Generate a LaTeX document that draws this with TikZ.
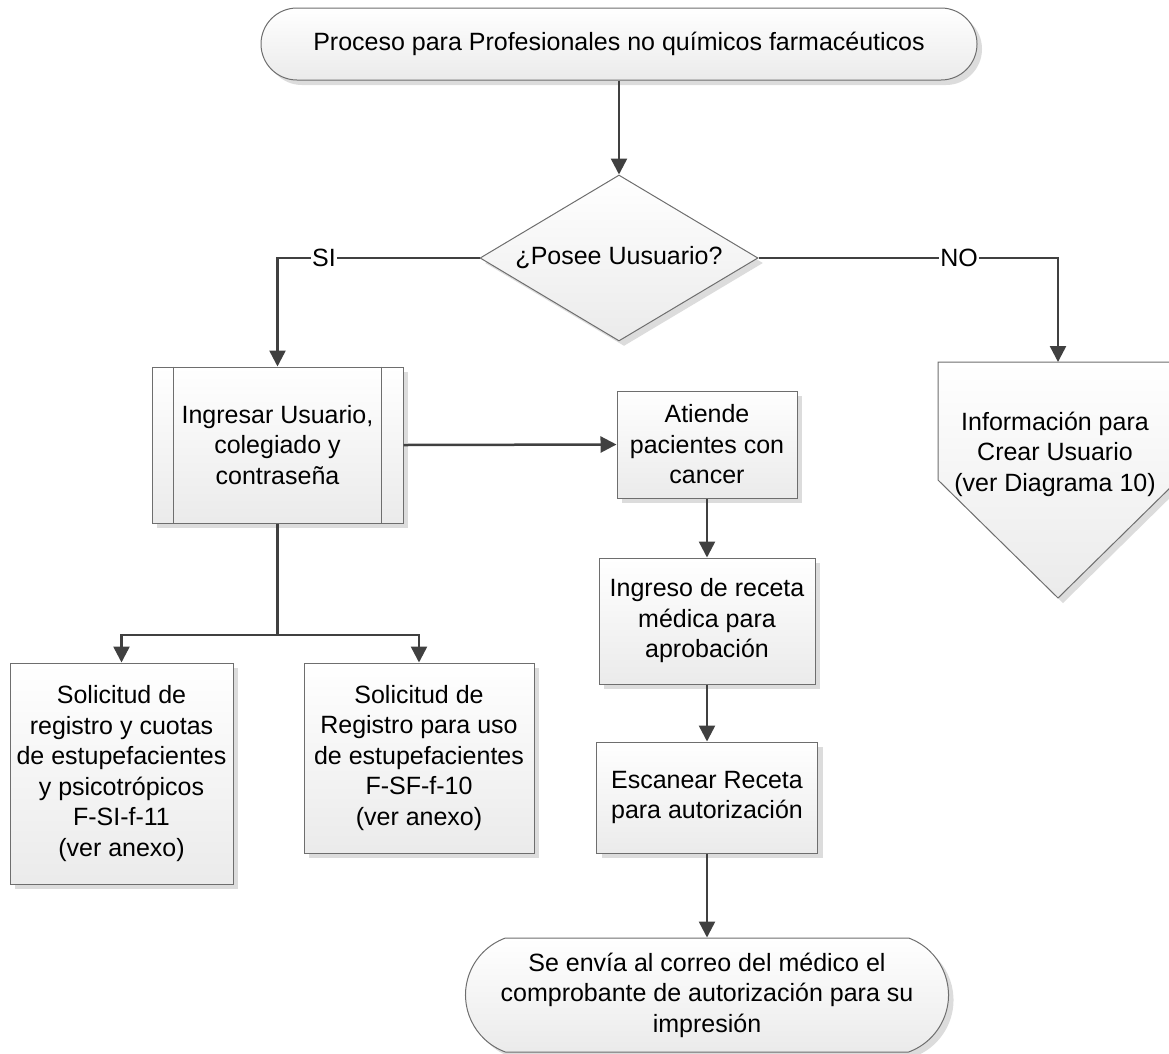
\documentclass[tikz,border=0pt]{standalone}
\usepackage{fontspec}
\setmainfont{Liberation Sans}
\usetikzlibrary{shapes.geometric,shapes.misc,arrows.meta,shadows,calc}

\definecolor{linegray}{HTML}{404040}
\definecolor{edgegray}{HTML}{6E6E6E}
\definecolor{shadowgray}{HTML}{DCDCDC}

\begin{document}
\begin{tikzpicture}[x=1pt,y=-1pt,
  every node/.style={font=\fontsize{25}{30.5}\selectfont, align=center, inner sep=0pt},
  shapebase/.style={draw=edgegray, line width=1pt, top color=white, bottom color=black!8,
      drop shadow={shadow xshift=5pt, shadow yshift=-5pt, opacity=1, fill=shadowgray}},
  procbox/.style={shapebase, rectangle},
  termbox/.style={shapebase, rounded rectangle},
  decbox/.style={shapebase, diamond, aspect=1.67},
  conn/.style={draw=linegray, line width=2.5pt, -{Triangle[length=16pt,width=16pt]}},
  link/.style={draw=linegray, line width=2.5pt},
  lbl/.style={fill=white, inner sep=1pt}
]
\useasboundingbox (0,0) rectangle (1169,1053);

% start / end terminators
\node[termbox, minimum width=716pt, minimum height=72pt] (start) at (619,44)
  {Proceso para Profesionales no químicos farmacéuticos};
\node[termbox, rounded rectangle arc length=140, minimum width=483pt, minimum height=114pt] (finish) at (707,995)
  {Se envía al correo del médico el\\comprobante de autorización para su\\impresión};

% decision
\node[decbox, minimum width=278pt, minimum height=166pt] (ask) at (619,258) {¿Posee Uusuario?};

% predefined process: login
\node[procbox, minimum width=251pt, minimum height=156pt] (login) at (277.5,445)
  {Ingresar Usuario,\\colegiado y\\contraseña};
\draw[draw=edgegray, line width=1pt]
  ([xshift=22pt]login.north west) -- ([xshift=22pt]login.south west)
  ([xshift=-22pt]login.north east) -- ([xshift=-22pt]login.south east);

% main column
\node[procbox, minimum width=180pt, minimum height=107pt] (cancer) at (707,444.5)
  {Atiende\\pacientes con\\cancer};
\node[procbox, minimum width=216pt, minimum height=126pt] (receta) at (707,621)
  {Ingreso de receta\\médica para\\aprobación};
\node[procbox, minimum width=221pt, minimum height=111pt] (scan) at (707,797.5)
  {Escanear Receta\\para autorización};

% forms
\node[procbox, minimum width=223pt, minimum height=221pt] (form11) at (121.5,773.5)
  {Solicitud de\\registro y cuotas\\de estupefacientes\\y psicotrópicos\\F-SI-f-11\\(ver anexo)};
\node[procbox, minimum width=230pt, minimum height=190pt] (form10) at (419,758)
  {Solicitud de\\Registro para uso\\de estupefacientes\\F-SF-f-10\\(ver anexo)};

% off-page reference
\path[shapebase] (938,362) -- (1178,362) -- (1178,480) -- (1058,598) -- (938,480) -- cycle;
\coordinate (offtop) at (1058,362);
\node (offtxt) at (1055,454) {Información para\\Crear Usuario\\(ver Diagrama 10)};

% connectors
\draw[conn] (start.south) -- (ask.north);
\draw[conn] (ask.west) -| node[lbl, pos=0.385] {SI} (login.north);
\draw[conn] (ask.east) -| node[lbl, pos=0.335] {NO} (offtop);
\draw[conn] (login.east) -- (cancer.west);
\draw[conn] (cancer.south) -- (receta.north);
\draw[conn] (receta.south) -- (scan.north);
\draw[conn] (scan.south) -- (finish.north);
\coordinate (split) at (277.5,635);
\draw[link] (login.south) -- (split);
\draw[conn] (split) -| (form11.north);
\draw[conn] (split) -| (form10.north);
\end{tikzpicture}
\end{document}
